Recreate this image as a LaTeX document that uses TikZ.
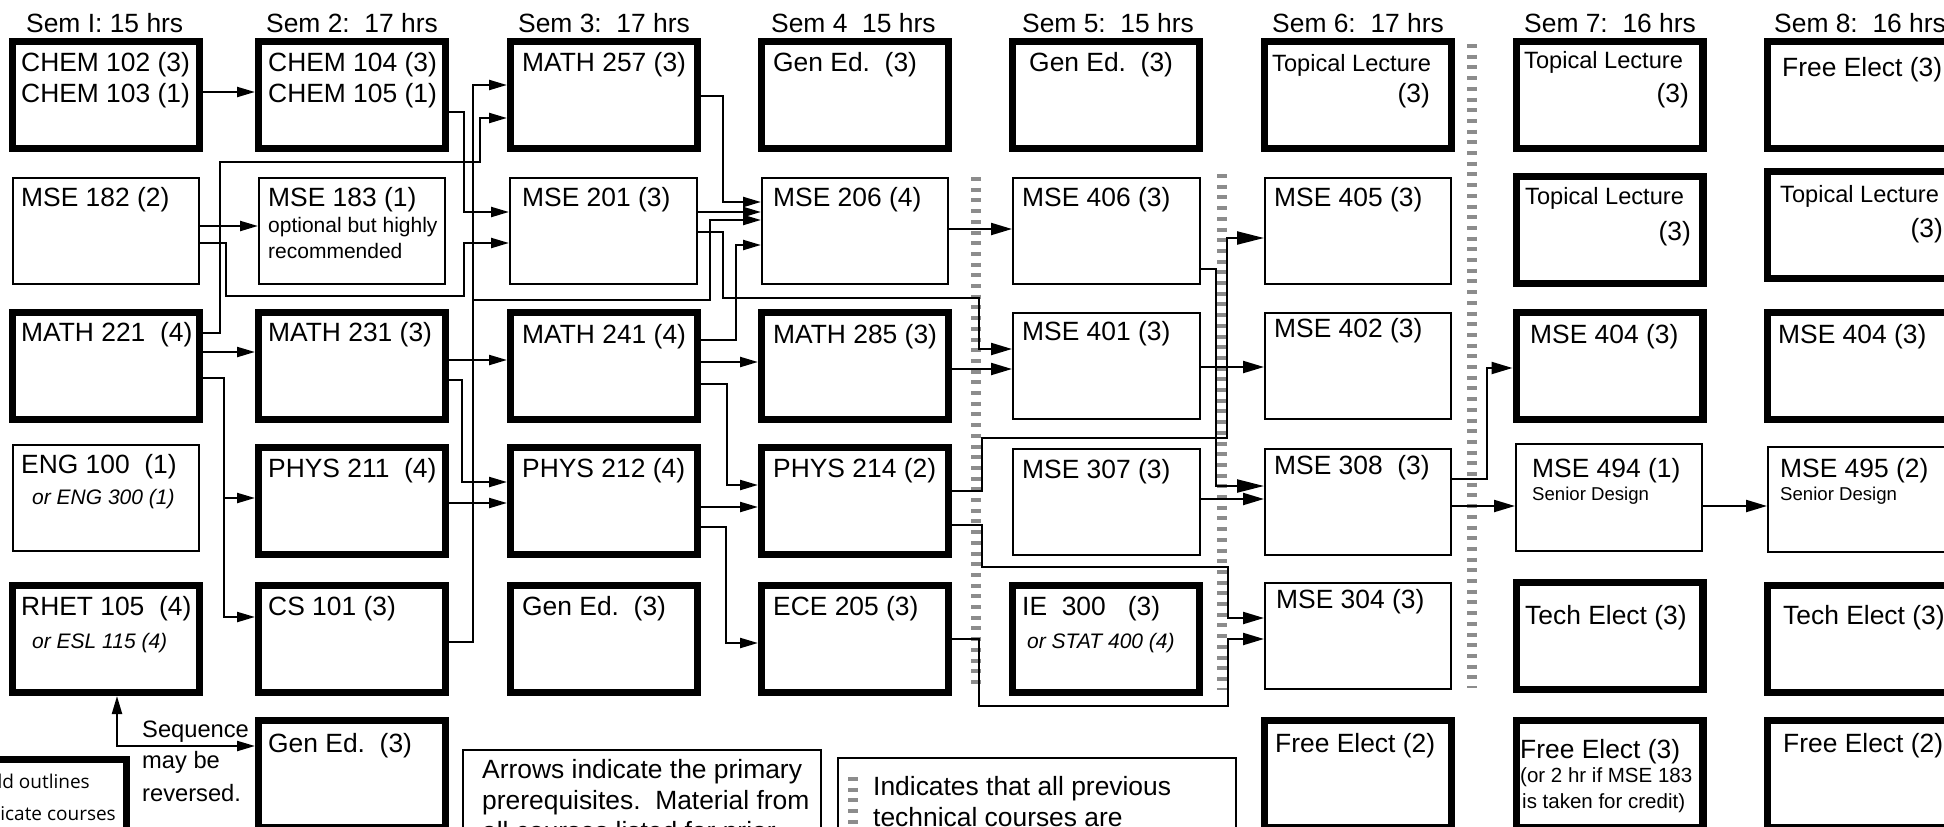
\documentclass[tikz,border=0pt]{standalone}
\usepackage{fontspec}
\setmainfont{Liberation Sans}
\newfontfamily\legendfont{Open Sans}
\usetikzlibrary{arrows.meta}
\begin{document}
\frenchspacing
\begin{tikzpicture}[x=1pt,y=-1pt,
  thickbox/.style={draw,line width=7.3pt,minimum width=186.7pt,minimum height=106.7pt,inner sep=0pt},
  thinbox/.style={draw,line width=2pt,minimum width=186pt,minimum height=106pt,inner sep=0pt},
  tx/.style={font=\fontsize{26.4}{30}\selectfont,anchor=base west,inner sep=0pt},
  txe/.style={font=\fontsize{26.4}{30}\selectfont,anchor=base east,inner sep=0pt},
  tl/.style={font=\fontsize{23.6}{27}\selectfont,anchor=base west,inner sep=0pt},
  ts/.style={font=\fontsize{21}{24}\selectfont,anchor=base west,inner sep=0pt},
  tsi/.style={font=\fontsize{21}{24}\selectfont\itshape,anchor=base west,inner sep=0pt},
  tss/.style={font=\fontsize{20.5}{24}\selectfont,anchor=base west,inner sep=0pt},
  tsd/.style={font=\fontsize{18.6}{22}\selectfont,anchor=base west,inner sep=0pt},
  tseq/.style={font=\fontsize{23.7}{27}\selectfont,anchor=base west,inner sep=0pt},
  tleg/.style={font=\legendfont\fontsize{19}{22}\selectfont,anchor=base east,inner sep=0pt},
  ln/.style={line width=2.2pt},
  arr/.style={line width=2.2pt,-{Triangle[length=18pt,width=10pt]}},
  arrb/.style={line width=2.2pt,-{Triangle[length=21pt,width=12pt]}},
  arrc/.style={line width=2.2pt,-{Triangle[length=27pt,width=13pt]}},
  techline/.style={draw=black!45,line width=10pt,dash pattern=on 4pt off 6.7pt},
]
\useasboundingbox (0,0) rectangle (1944,827);
\clip (0,0) rectangle (1944,827);
\fill[white] (0,0) rectangle (1944,827);

% semester headers
\node[tx] (h1) at (26,32) {Sem I: 15 hrs};
\node[tx] (h2) at (266,32) {Sem 2:\ \ 17 hrs};
\node[tx] (h3) at (518,32) {Sem 3:\ \ 17 hrs};
\node[tx] (h4) at (771,32) {Sem 4\ \ 15 hrs};
\node[tx] (h5) at (1022,32) {Sem 5:\ \ 15 hrs};
\node[tx] (h6) at (1272,32) {Sem 6:\ \ 17 hrs};
\node[tx] (h7) at (1524,32) {Sem 7:\ \ 16 hrs};
\node[tx] (h8) at (1774,32) {Sem 8:\ \ 16 hrs};

% technical-course markers
\draw[techline] (976,177) -- (976,690);
\draw[techline] (1222,174) -- (1222,690);
\draw[techline] (1472,44) -- (1472,688);

% row 1
\node[thickbox] (chemA) at (106,95) {};
\node[thickbox] (chemB) at (352,95) {};
\node[thickbox] (math257) at (604,95) {};
\node[thickbox] (gened4) at (855,95) {};
\node[thickbox] (gened5) at (1106,95) {};
\node[thickbox] (topic6) at (1358,95) {};
\node[thickbox] (topic7) at (1609.5,95) {};
\node[thickbox] (free8a) at (1861,95) {};
% row 2
\node[thinbox] (mse182) at (106,231) {};
\node[thinbox] (mse183) at (352,231) {};
\node[thinbox,minimum width=187pt] (mse201) at (603.5,231) {};
\node[thinbox] (mse206) at (855,231) {};
\node[thinbox,minimum width=187pt] (mse406) at (1106.5,231) {};
\node[thinbox] (mse405) at (1358,231) {};
\node[thickbox] (topic7b) at (1609.5,230) {};
\node[thickbox] (topic8b) at (1861,225) {};
% row 3
\node[thickbox] (math221) at (106,366) {};
\node[thickbox] (math231) at (352,366) {};
\node[thickbox] (math241) at (604,366) {};
\node[thickbox] (math285) at (855,366) {};
\node[thinbox,minimum width=187pt] (mse401) at (1106.5,366) {};
\node[thinbox] (mse402) at (1358,366) {};
\node[thickbox] (mse404a) at (1609.5,366) {};
\node[thickbox] (mse404b) at (1861,366) {};
% row 4
\node[thinbox] (eng100) at (106,498) {};
\node[thickbox] (phys211) at (352,501) {};
\node[thickbox] (phys212) at (604,501) {};
\node[thickbox] (phys214) at (855,501) {};
\node[thinbox,minimum width=187pt] (mse307) at (1106.5,502) {};
\node[thinbox] (mse308) at (1358,502) {};
\node[thinbox,minimum height=107pt] (mse494) at (1609,497.5) {};
\node[thinbox,minimum height=105pt] (mse495) at (1861,499.5) {};
% row 5
\node[thickbox] (rhet105) at (106,639) {};
\node[thickbox] (cs101) at (352,639) {};
\node[thickbox] (gened3) at (604,639) {};
\node[thickbox] (ece205) at (855,639) {};
\node[thickbox] (ie300) at (1106,639) {};
\node[thinbox] (mse304) at (1358,636) {};
\node[thickbox] (tech7) at (1609.5,636) {};
\node[thickbox] (tech8) at (1861,639) {};
% row 6
\node[thickbox] (gened2) at (352,774) {};
\node[thickbox] (free6) at (1358,774) {};
\node[thickbox] (free7) at (1609.5,774) {};
\node[thickbox] (free8b) at (1861,774) {};

% legend boxes
\node[draw,line width=7.3pt,minimum width=192.7pt,minimum height=106.7pt,inner sep=0pt] (boldleg) at (30,813) {};
\node[draw,line width=2pt,minimum width=358pt,minimum height=140pt,inner sep=0pt] (arrowleg) at (642,820) {};
\node[draw,line width=2pt,minimum width=398pt,minimum height=140pt,inner sep=0pt] (dashleg) at (1037,828) {};
\draw[techline] (853,777) -- (853,840);

% course texts
\node[tx] (tA1) at (21,71) {CHEM 102 (3)};
\node[tx] (tA2) at (21,102) {CHEM 103 (1)};
\node[tx] (tB1) at (268,71) {CHEM 104 (3)};
\node[tx] (tB2) at (268,102) {CHEM 105 (1)};
\node[tx] (t257) at (522,71) {MATH 257 (3)};
\node[tx] (tg4) at (773,71) {Gen Ed.\ \ (3)};
\node[tx] (tg5) at (1029,71) {Gen Ed.\ \ (3)};
\node[tl] (tt6) at (1272,71) {Topical Lecture};
\node[txe] (tt6b) at (1430,102) {(3)};
\node[tl] (tt7) at (1524,68) {Topical Lecture};
\node[txe] (tt7b) at (1689,102) {(3)};
\node[tx] (tf8) at (1782,76) {Free Elect (3)};

\node[tx] (t182) at (21,206) {MSE 182 (2)};
\node[tx] (t183) at (268,206) {MSE 183 (1)};
\node[ts] (t183b) at (268,232) {optional but highly};
\node[ts] (t183c) at (268,258) {recommended};
\node[tx] (t201) at (522,206) {MSE 201 (3)};
\node[tx] (t206) at (773,206) {MSE 206 (4)};
\node[tx] (t406) at (1022,206) {MSE 406 (3)};
\node[tx] (t405) at (1274,206) {MSE 405 (3)};
\node[tl] (tt7c) at (1525,204) {Topical Lecture};
\node[txe] (tt7d) at (1691,240) {(3)};
\node[tl] (tt8c) at (1780,202) {Topical Lecture};
\node[txe] (tt8d) at (1943,237) {(3)};

\node[tx] (t221) at (21,341) {MATH 221\ \ (4)};
\node[tx] (t231) at (268,341) {MATH 231 (3)};
\node[tx] (t241) at (522,343) {MATH 241 (4)};
\node[tx] (t285) at (773,343) {MATH 285 (3)};
\node[tx] (t401) at (1022,340) {MSE 401 (3)};
\node[tx] (t402) at (1274,337) {MSE 402 (3)};
\node[tx] (t404a) at (1530,343) {MSE 404 (3)};
\node[tx] (t404b) at (1778,343) {MSE 404 (3)};

\node[tx] (t100) at (21,473) {ENG 100\ \ (1)};
\node[tsi] (t100b) at (32,504) {or ENG 300 (1)};
\node[tx] (t211) at (268,477) {PHYS 211\ \ (4)};
\node[tx] (t212) at (522,477) {PHYS 212 (4)};
\node[tx] (t214) at (773,477) {PHYS 214 (2)};
\node[tx] (t307) at (1022,478) {MSE 307 (3)};
\node[tx] (t308) at (1274,474) {MSE 308\ \ (3)};
\node[tx] (t494) at (1532,477) {MSE 494 (1)};
\node[tsd] (t494b) at (1532,500) {Senior Design};
\node[tx] (t495) at (1780,477) {MSE 495 (2)};
\node[tsd] (t495b) at (1780,500) {Senior Design};

\node[tx] (t105) at (21,615) {RHET 105\ \ (4)};
\node[tsi] (t105b) at (32,648) {or ESL 115 (4)};
\node[tx] (t101) at (268,615) {CS 101 (3)};
\node[tx] (tg3) at (522,615) {Gen Ed.\ \ (3)};
\node[tx] (t205) at (773,615) {ECE 205 (3)};
\node[tx] (t300) at (1022,615) {IE\ \ 300\ \ \ (3)};
\node[tsi] (t300b) at (1027,648) {or STAT 400 (4)};
\node[tx] (t304) at (1276,608) {MSE 304 (3)};
\node[tx] (te7) at (1525,624) {Tech Elect (3)};
\node[tx] (te8) at (1783,624) {Tech Elect (3)};

\node[tx] (tg2) at (268,752) {Gen Ed.\ \ (3)};
\node[tx] (tf6) at (1275,752) {Free Elect (2)};
\node[tx] (tf7) at (1520,758) {Free Elect (3)};
\node[tss] (tf7b) at (1520,782) {(or 2 hr if MSE 183};
\node[tss] (tf7c) at (1522,808) {is taken for credit)};
\node[tx] (tf8b) at (1783,752) {Free Elect (2)};

\node[tseq] (sq1) at (142,737) {Sequence};
\node[tseq] (sq2) at (142,768) {may be};
\node[tseq] (sq3) at (142,801) {reversed.};

\node[tleg] (lg1) at (90,788) {Bold outlines};
\node[tleg] (lg2) at (116,820) {indicate courses};

\node[tx] (ar1) at (482,778) {Arrows indicate the primary};
\node[tx] (ar2) at (482,809) {prerequisites.\ \ Material from};
\node[tx] (ar3) at (482,840) {all courses listed for prior};

\node[tx] (ds1) at (873,795) {Indicates that all previous};
\node[tx] (ds2) at (873,826) {technical courses are};

% connectors
\draw[arr] (chemA.east |- 0,92) -- (chemB.west |- 0,92);
\draw[arr] (chemB.east |- 0,112) -- (464,112) -- (464,212) -- (mse201.west |- 0,212);
\draw[arr] (mse182.east |- 0,226) -- (mse183.west |- 0,226);
\draw[arr] (mse182.east |- 0,243) -- (226,243) -- (226,296) -- (464,296) -- (464,243) -- (mse201.west |- 0,243);
\draw[arr] (math221.east |- 0,333) -- (220,333) -- (220,162) -- (480,162) -- (480,118) -- (math257.west |- 0,118);
\draw[arr] (cs101.east |- 0,642) -- (473,642) -- (473,85) -- (math257.west |- 0,85);
\draw[arr] (cs101.east |- 0,642) -- (473,642) -- (473,300) -- (710,300) -- (710,220) -- (mse206.west |- 0,220);
\draw[arr] (math221.east |- 0,352) -- (math231.west |- 0,352);
\draw[arr] (math221.east |- 0,378) -- (224,378) -- (224,498) -- (phys211.west |- 0,498);
\draw[arr] (math221.east |- 0,378) -- (224,378) -- (224,617) -- (cs101.west |- 0,617);
\draw[arr] (math231.east |- 0,360) -- (math241.west |- 0,360);
\draw[arr] (math231.east |- 0,380) -- (462,380) -- (462,482) -- (phys212.west |- 0,482);
\draw[arr] (phys211.east |- 0,503) -- (phys212.west |- 0,503);
\draw[arr] (math257.east |- 0,96) -- (723,96) -- (723,202) -- (mse206.west |- 0,202);
\draw[arr] (mse201.east |- 0,212) -- (mse206.west |- 0,212);
\draw[arrb] (mse201.east |- 0,232) -- (723,232) -- (723,298) -- (979,298) -- (979,349) -- (mse401.west |- 0,349);
\draw[arr] (math241.east |- 0,340) -- (736,340) -- (736,245) -- (mse206.west |- 0,245);
\draw[arr] (math241.east |- 0,362) -- (math285.west |- 0,362);
\draw[arr] (math241.east |- 0,384) -- (727,384) -- (727,485) -- (phys214.west |- 0,485);
\draw[arr] (phys212.east |- 0,507) -- (phys214.west |- 0,507);
\draw[arr] (phys212.east |- 0,527) -- (726,527) -- (726,643) -- (ece205.west |- 0,643);
\draw[arrb] (math285.east |- 0,369) -- (mse401.west |- 0,369);
\draw[arrb] (mse206.east |- 0,229) -- (mse406.west |- 0,229);
\draw[arrc] (phys214.east |- 0,491) -- (982,491) -- (982,438) -- (1227,438) -- (1227,238) -- (mse405.west |- 0,238);
\draw[arrb] (phys214.east |- 0,525) -- (982,525) -- (982,567) -- (1228,567) -- (1228,618) -- (mse304.west |- 0,618);
\draw[arrb] (ece205.east |- 0,639) -- (979,639) -- (979,706) -- (1228,706) -- (1228,639) -- (mse304.west |- 0,639);
\draw[arrc] (mse406.east |- 0,269) -- (1216,269) -- (1216,486) -- (mse308.west |- 0,486);
\draw[arrb] (mse401.east |- 0,367) -- (mse402.west |- 0,367);
\draw[arrb] (mse307.east |- 0,499) -- (mse308.west |- 0,499);
\draw[arrb] (mse308.east |- 0,479) -- (1487,479) -- (1487,368) -- (mse404a.west |- 0,368);
\draw[arrb] (mse308.east |- 0,506) -- (mse494.west |- 0,506);
\draw[arrb] (mse494.east |- 0,506) -- (mse495.west |- 0,506);
\draw[line width=2.2pt,{Triangle[length=18pt,width=10pt]}-{Triangle[length=18pt,width=10pt]}] (rhet105.south -| 117,0) -- (117,746) -- (gened2.west |- 0,746);
\end{tikzpicture}
\end{document}
